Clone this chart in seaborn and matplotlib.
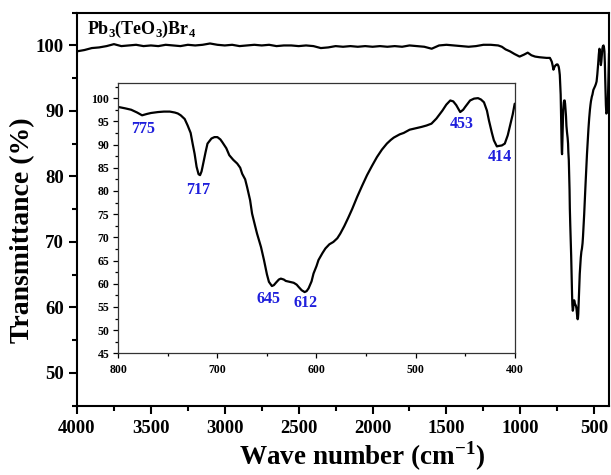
import numpy as np
import pandas as pd
import matplotlib
matplotlib.use("Agg")
import matplotlib.pyplot as plt
from matplotlib.ticker import MultipleLocator
import seaborn as sns

# FTIR spectrum of Pb3(TeO3)Br4 -- flat region (cm-1, %T)
wn_high = [4000, 3950, 3900, 3850, 3800, 3750, 3700, 3650, 3600, 3550, 3500,
           3450, 3400, 3350, 3300, 3250, 3200, 3150, 3100, 3050, 3000, 2950,
           2900, 2850, 2800, 2750, 2700, 2650, 2600, 2550, 2500, 2450, 2400,
           2350, 2300, 2250, 2200, 2150, 2100, 2050, 2000, 1950, 1900, 1850,
           1800, 1750, 1700, 1650, 1600, 1550, 1500, 1450, 1400, 1350, 1300,
           1250, 1200, 1150, 1125, 1100, 1070, 1040, 1005, 975, 950, 925,
           900, 870, 850, 823]
t_high = [99.1, 99.3, 99.6, 99.7, 99.9, 100.2, 99.9, 100.0, 100.1, 99.9, 100.0,
          99.9, 100.1, 100.0, 99.9, 100.1, 100.0, 100.1, 100.3, 100.1, 100.0, 100.1,
          99.9, 100.0, 100.1, 100.0, 100.1, 99.9, 100.0, 100.0, 99.9, 100.0, 99.9,
          99.6, 99.7, 99.9, 99.8, 99.9, 99.8, 99.9, 99.8, 99.9, 99.8, 99.9,
          99.8, 100.0, 99.9, 99.8, 99.5, 100.0, 100.1, 100.0, 99.9, 99.8, 99.9,
          100.1, 100.1, 100.0, 99.8, 99.4, 99.1, 98.7, 98.3, 98.6, 98.9, 98.5,
          98.3, 98.2, 98.15, 98.1]

# Fingerprint region 800-400 cm-1 (%T)
wn_low = [800, 793, 787, 781, 776, 771, 767, 760, 754, 748, 743, 740, 737, 733,
          730, 727, 725, 723, 721, 719, 717.5, 716, 715, 712, 710, 706, 703, 700,
          697, 695, 691, 688, 684, 680, 677, 675, 672, 670, 667, 665, 662, 660,
          656, 653, 650, 648, 645, 643, 641, 638, 636, 633, 631, 627, 623, 620,
          618, 615, 612, 610, 608, 605, 603, 600, 598, 594, 591, 587, 583, 579,
          576, 572, 568, 564, 559, 554, 549, 544, 539, 534, 529, 525, 522, 516,
          512, 506, 502, 494, 489, 484, 479, 473, 469, 465, 462, 459, 455, 452,
          450, 445, 441, 437, 434, 431, 428, 426, 423, 421, 418, 416, 413, 410,
          407, 405, 402, 400]
t_low = [98.1, 97.8, 97.5, 96.9, 96.3, 96.6, 96.8, 97.0, 97.1, 97.1, 96.9, 96.7, 96.3, 95.5,
         94.1, 92.5, 90.2, 88.0, 85.2, 83.6, 83.4, 84.2, 85.2, 88.3, 90.2, 91.3, 91.6, 91.6,
         91.1, 90.5, 89.2, 87.7, 86.7, 85.9, 85.0, 83.7, 82.5, 80.8, 78.0, 75.1, 72.5, 70.8,
         67.9, 65.1, 62.0, 60.4, 59.5, 59.7, 60.2, 60.9, 61.1, 60.9, 60.6, 60.4, 60.2, 59.8,
         59.3, 58.6, 58.2, 58.4, 59.0, 60.5, 62.2, 63.8, 65.1, 66.6, 67.6, 68.5, 69.0, 69.8,
         70.8, 72.4, 74.2, 76.1, 78.7, 81.1, 83.4, 85.4, 87.3, 88.9, 90.2, 91.0, 91.5, 92.2,
         92.5, 93.2, 93.4, 93.8, 94.1, 94.5, 95.6, 97.3, 98.6, 99.5, 99.3, 98.5, 97.0, 97.5,
         98.1, 99.5, 99.9, 100.0, 99.7, 99.1, 97.3, 95.2, 92.5, 90.9, 89.6, 89.7, 89.8, 90.2,
         92.0, 93.8, 96.5, 98.8]

# Band labels in the inset: text, x, y
peak_labels = ["775", "717", "645", "612", "453", "414"]
peak_x = [775, 719, 648, 611, 453, 415]
peak_y = [93.4, 80.1, 56.8, 55.9, 94.5, 87.3]

sns.set_theme(style="ticks")
plt.rcParams["font.family"] = ["Liberation Serif", "DejaVu Serif"]
plt.rcParams["font.weight"] = "bold"
plt.rcParams["text.color"] = "black"
plt.rcParams["axes.labelcolor"] = "black"
plt.rcParams["xtick.color"] = "black"
plt.rcParams["ytick.color"] = "black"

full = pd.DataFrame({"wn": wn_high + wn_low, "T": t_high + t_low})
fine = pd.DataFrame({"wn": wn_low, "T": t_low})

W, H = 611, 475
fig = plt.figure(figsize=(W / 100, H / 100), dpi=100)
ax = fig.add_axes([77 / W, 1 - 405.7 / H, 532 / W, 393 / H])
axin = fig.add_axes([118.3 / W, 1 - 353.3 / H, 396.4 / W, 270 / H])

# main spectrum
sns.lineplot(data=full, x="wn", y="T", ax=ax, color="black", lw=1.6)
ax.set_xlim(4000, 400)
ax.set_ylim(45, 105)
ax.xaxis.set_major_locator(MultipleLocator(500))
ax.xaxis.set_minor_locator(MultipleLocator(250))
ax.set_yticks([50, 60, 70, 80, 90, 100])
ax.yaxis.set_minor_locator(MultipleLocator(5))
ax.set_xlabel("")
ax.set_ylabel("")
for s in ax.spines.values():
    s.set_linewidth(1.5)
    s.set_color("black")
ax.tick_params(axis="both", which="both", direction="out", width=1.5, colors="black",
               top=False, right=False)
ax.tick_params(axis="both", which="major", length=6, labelsize=13.5, pad=3.5)
ax.tick_params(axis="both", which="minor", length=3.5)
ax.tick_params(axis="x", which="major", pad=4.5)
for lab in ax.get_xticklabels() + ax.get_yticklabels():
    lab.set_fontweight("bold")
    lab.set_color("black")

ax.text(86.7 / W, 1 - 34.3 / H,
        r"Pb$_\mathregular{3}$(TeO$_\mathregular{3}$)Br$_\mathregular{4}$",
        transform=fig.transFigure, fontsize=13, fontweight="bold", color="black",
        ha="left", va="baseline")

# inset: 800-400 cm-1
sns.lineplot(data=fine, x="wn", y="T", ax=axin, color="black", lw=1.6)
axin.set_xlim(800, 400)
axin.set_ylim(45, 103.2)
axin.xaxis.set_major_locator(MultipleLocator(100))
axin.xaxis.set_minor_locator(MultipleLocator(50))
axin.yaxis.set_major_locator(MultipleLocator(5))
axin.yaxis.set_minor_locator(MultipleLocator(2.5))
axin.set_xlabel("")
axin.set_ylabel("")
for s in axin.spines.values():
    s.set_linewidth(0.9)
    s.set_color("#333333")
axin.tick_params(axis="both", which="both", direction="out", width=0.9, colors="black",
                 top=False, right=False)
axin.tick_params(axis="both", which="major", length=3.5, labelsize=8.5, pad=3)
axin.tick_params(axis="both", which="minor", length=2)
axin.tick_params(axis="x", which="major", pad=4)
for lab in axin.get_xticklabels() + axin.get_yticklabels():
    lab.set_fontweight("bold")
    lab.set_color("black")

for txt, px, py in zip(peak_labels, peak_x, peak_y):
    axin.text(px, py, txt, color="#1f1fdc", fontsize=11.5, fontweight="bold",
              ha="center", va="center")

fig.text(362.5 / W, 1 - 465 / H, r"Wave number (cm$^\mathregular{-1}$)",
         fontsize=19.5, fontweight="bold", color="black", ha="center", va="baseline")
fig.text(23 / W, 1 - 230 / H, "Transmittance (%)", rotation=90,
         fontsize=20, fontweight="bold", color="black", ha="center", va="center")

fig.savefig("out.png", dpi=100, facecolor="white")
